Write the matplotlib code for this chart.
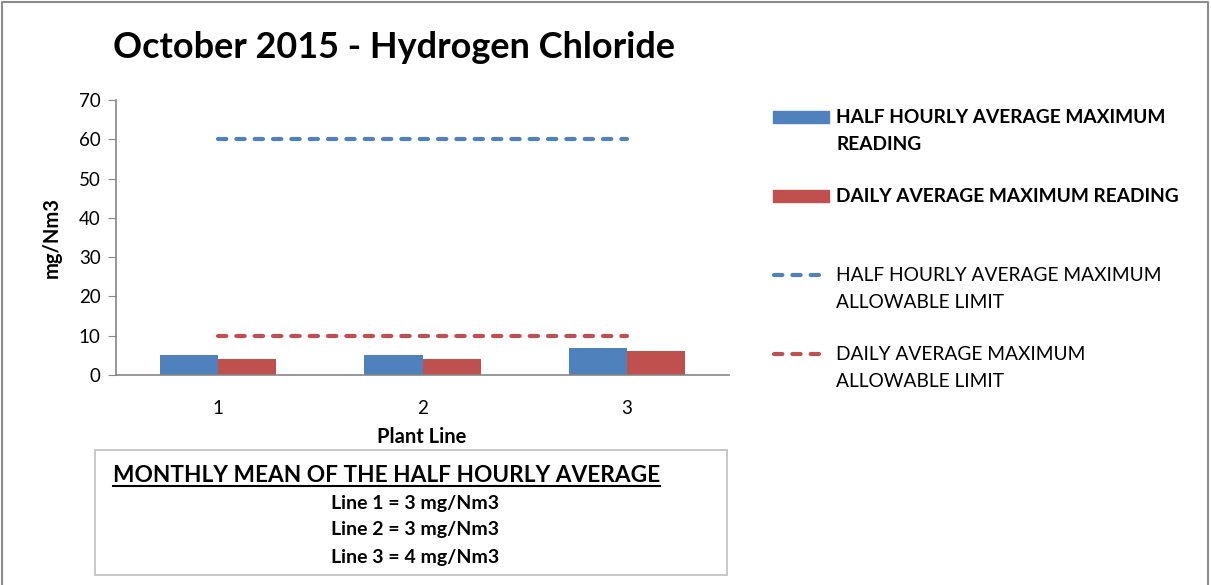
import numpy as np
import matplotlib.pyplot as plt
from matplotlib.lines import Line2D
from matplotlib.patches import Rectangle

plt.rcParams['font.family'] = ['Lato', 'DejaVu Sans']

# data
plant_lines = [1, 2, 3]
half_hourly_max = [5, 5, 7]
daily_max = [4, 4, 6]
half_hourly_limit = [60, 60, 60]
daily_limit = [10, 10, 10]
monthly_mean = [3, 3, 4]

BLUE = '#4f81bd'
RED = '#c0504d'
W, H = 1211, 585
DASH = (0, (2.0, 2.4))

fig = plt.figure(figsize=(W / 100, H / 100), dpi=100)
ax = fig.add_axes([116 / W, 1 - 375 / H, (729 - 116) / W, (375 - 100) / H])

x = np.array(plant_lines)
bw = 0.285
ax.bar(x - bw / 2, half_hourly_max, bw, color=BLUE, zorder=2)
ax.bar(x + bw / 2, daily_max, bw, color=RED, zorder=2)
ax.plot(x, half_hourly_limit, color=BLUE, lw=3, ls=DASH, dash_capstyle='round', zorder=3)
ax.plot(x, daily_limit, color=RED, lw=3, ls=DASH, dash_capstyle='round', zorder=3)

ax.set_xlim(0.5, 3.5)
ax.set_ylim(0, 70)
ax.set_yticks(range(0, 71, 10))
ax.set_xticks(plant_lines)
ax.tick_params(axis='y', length=6, color='#868686', labelsize=13.5, pad=5)
ax.tick_params(axis='x', length=0, labelsize=13.5, pad=18)
for s in ['top', 'right']:
    ax.spines[s].set_visible(False)
for s in ['left', 'bottom']:
    ax.spines[s].set_color('#868686')
    ax.spines[s].set_linewidth(1.2)
ax.set_ylabel('mg/Nm3', fontsize=14.5, fontweight='bold', labelpad=12)


def fy(py):
    return 1 - py / H


fig.text(422 / W, fy(437), 'Plant Line', fontsize=14.5, fontweight='bold',
         ha='center', va='center')
fig.text(113 / W, fy(47), 'October 2015 - Hydrogen Chloride', fontsize=25.9,
         fontweight='bold', va='center', ha='left')

# legend drawn by hand so the key sits on the first text line
entries = [
    ('patch', BLUE, 'HALF HOURLY AVERAGE MAXIMUM\nREADING', 'bold', 117),
    ('patch', RED, 'DAILY AVERAGE MAXIMUM READING', 'bold', 196),
    ('line', BLUE, 'HALF HOURLY AVERAGE MAXIMUM\nALLOWABLE LIMIT', 'normal', 275),
    ('line', RED, 'DAILY AVERAGE MAXIMUM\nALLOWABLE LIMIT', 'normal', 354),
]
for kind, col, label, wt, py in entries:
    if kind == 'patch':
        fig.add_artist(Rectangle((773 / W, fy(py + 6)), 56 / W, 12 / H,
                                 color=col, transform=fig.transFigure))
    else:
        fig.add_artist(Line2D([774 / W, 820 / W], [fy(py), fy(py)], color=col, lw=3,
                              ls=DASH, dash_capstyle='round',
                              transform=fig.transFigure))
    fig.text(836 / W, fy(py - 8), label, fontsize=13.75, fontweight=wt,
             va='top', ha='left', linespacing=1.68)

# monthly mean box
fig.add_artist(Rectangle((95 / W, fy(575)), (727 - 95) / W, (575 - 450) / H,
                         fill=False, edgecolor='#bfbfbf', lw=1.2, transform=fig.transFigure))
t = fig.text(113 / W, fy(476), 'MONTHLY MEAN OF THE HALF HOURLY AVERAGE', fontsize=16.3,
             fontweight='bold', va='center', ha='left')
for i, (n, v) in enumerate(zip(plant_lines, monthly_mean)):
    fig.text(415 / W, fy(503 + i * 27), f'Line {n} = {v} mg/Nm3', fontsize=14,
             fontweight='bold', va='center', ha='center')

fig.canvas.draw()
bb = t.get_window_extent().transformed(fig.transFigure.inverted())
fig.add_artist(Line2D([bb.x0, bb.x1], [bb.y0 + 1 / H, bb.y0 + 1 / H], color='black', lw=1.5,
                      transform=fig.transFigure))

# outer border (left, top, right)
fig.add_artist(Line2D([2 / W, 2 / W, 1208 / W, 1208 / W], [0, 1 - 2 / H, 1 - 2 / H, 0],
                      color='#8c8c8c', lw=1.5, transform=fig.transFigure))

fig.savefig('out.png', dpi=100)
